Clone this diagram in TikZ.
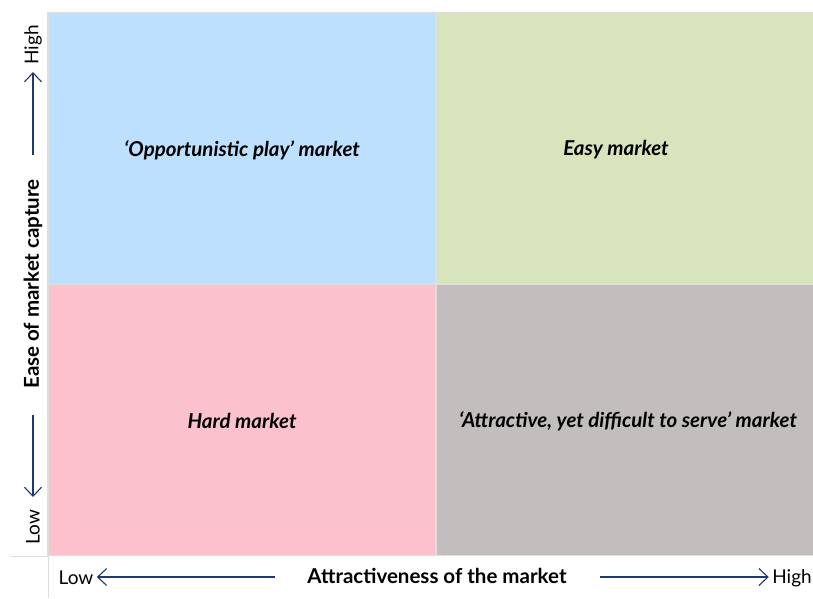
\documentclass[tikz,border=0pt]{standalone}
\usepackage{fontspec}
\setmainfont{Lato}
\usetikzlibrary{arrows.meta}
\definecolor{cellblue}{RGB}{189,224,254}
\definecolor{cellgreen}{RGB}{216,228,188}
\definecolor{cellpink}{RGB}{251,194,206}
\definecolor{cellgray}{RGB}{194,190,189}
\definecolor{gridgray}{RGB}{222,222,222}
\definecolor{axisblue}{RGB}{31,56,110}
\begin{document}
\begin{tikzpicture}[x=1pt,y=-1pt,
    cell/.style={font=\fontsize{20.5}{24}\selectfont\bfseries\itshape},
    axis/.style={font=\fontsize{20.5}{24}\selectfont\bfseries},
    level/.style={font=\fontsize{19}{22}\selectfont},
    axisarrow/.style={draw=axisblue, line width=1.1pt, -{Straight Barb[length=9pt,width=17pt]}}]
    \useasboundingbox (0,0) rectangle (813,598);
    \fill[white] (0,0) rectangle (813,598);
    
    \fill[gridgray] (47,12) rectangle (813,556);
    \fill[cellblue] (49,13) rectangle (435,283);
    \fill[cellgreen] (437,13) rectangle (813,283);
    \fill[cellpink] (49,285) rectangle (435,555);
    \fill[cellgray] (437,285) rectangle (813,555);
    \draw[gridgray, line width=1pt] (10,556) -- (48,556) -- (48,598);
    
    \node[cell] (opp) at (242,150) {‘Opportunistic play’ market};
    \node[cell] (easy) at (616,150) {Easy market};
    \node[cell] (hard) at (242,421) {Hard market};
    \node[cell] (attr) at (628,421) {‘Attractive, yet difficult to serve’ market};
    
    \node[axis, rotate=90] (ease) at (33,284) {Ease of market capture};
    \node[level, rotate=90] (yhigh) at (33,45) {High};
    \node[level, rotate=90] (ylow) at (33,527) {Low};
    \coordinate (yup) at (33,155);
    \coordinate (ydown) at (33,415);
    \draw[axisarrow] (yup) -- (yhigh.east |- 0,72);
    \draw[axisarrow] (ydown) -- (ylow.west |- 0,497);
    
    \node[axis] (attract) at (437,576) {Attractiveness of the market};
    \node[level] (xlow) at (76,578) {Low};
    \node[level] (xhigh) at (792,578) {High};
    \coordinate (xleft) at (275,577);
    \coordinate (xright) at (600,577);
    \draw[axisarrow] (xleft) -- (xlow.east |- xleft);
    \draw[axisarrow] (xright) -- (xhigh.west |- xright);
    
\end{tikzpicture}
\end{document}
